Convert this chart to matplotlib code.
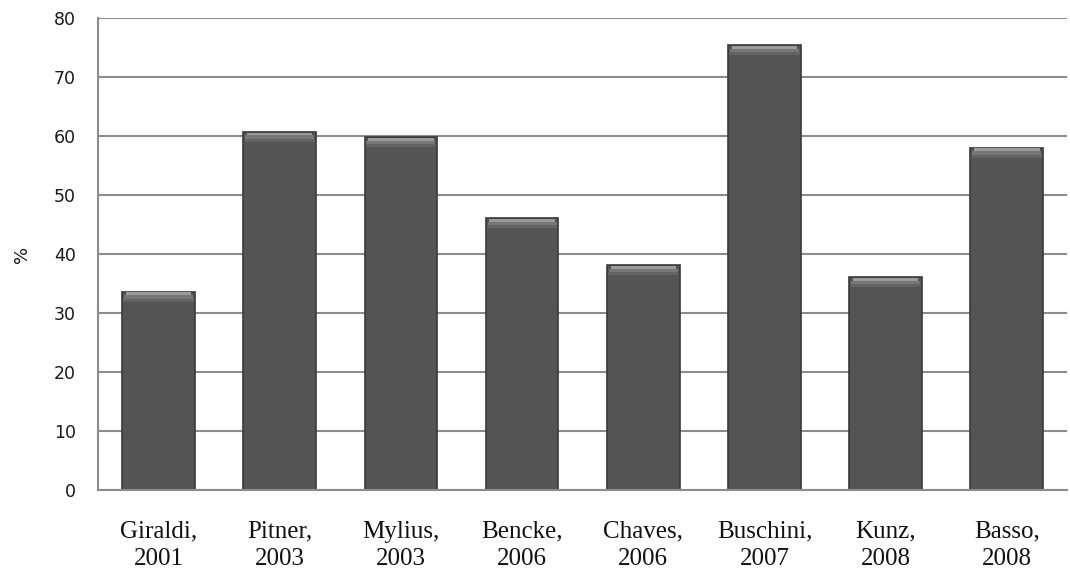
import matplotlib.pyplot as plt
import numpy as np

authors = ['Giraldi,\n2001', 'Pitner,\n2003', 'Mylius,\n2003', 'Bencke,\n2006',
           'Chaves,\n2006', 'Buschini,\n2007', 'Kunz,\n2008', 'Basso,\n2008']
percent = [33.6, 60.7, 59.8, 46.1, 38.1, 75.4, 36.1, 58.0]

x = np.arange(len(authors))
vals = np.array(percent)

fig = plt.figure(figsize=(10.7, 5.84), dpi=100)
ax = fig.add_axes([0.0916, 0.161, 0.906, 0.808])

ax.set_ylim(0, 80)
ax.set_xlim(-0.5, len(authors) - 0.5)
ax.set_yticks(range(0, 81, 10))
ax.yaxis.grid(True, color='#8c8c8c', linewidth=1.5)
ax.set_axisbelow(True)

# bars with a lighter bevel at the top
ax.bar(x, vals, width=0.6, color='#545454', edgecolor='#3a3a3a', linewidth=1.2, zorder=2)
ax.bar(x, np.full(len(x), 0.5), bottom=vals - 0.6, width=0.54,
       color='#9a9a9a', linewidth=0, zorder=3)
ax.bar(x, np.full(len(x), 0.6), bottom=vals - 1.2, width=0.57,
       color='#777777', linewidth=0, zorder=3)
ax.bar(x, np.full(len(x), 0.5), bottom=vals - 1.7, width=0.58,
       color='#636363', linewidth=0, zorder=3)

for s in ['top', 'right']:
    ax.spines[s].set_visible(False)
for s in ['left', 'bottom']:
    ax.spines[s].set_color('#8c8c8c')
    ax.spines[s].set_linewidth(1.5)

ax.tick_params(axis='both', length=0)
ax.tick_params(axis='y', pad=16, labelsize=12.5, labelcolor='#1a1a1a')
ax.set_xticks(x)
ax.set_xticklabels(authors, fontfamily='Liberation Serif', fontsize=18,
                   color='#111111', linespacing=1.35)
ax.tick_params(axis='x', pad=22)

ax.set_ylabel('%', fontsize=13, labelpad=16, color='#1a1a1a')

fig.savefig('out.png', dpi=100)
